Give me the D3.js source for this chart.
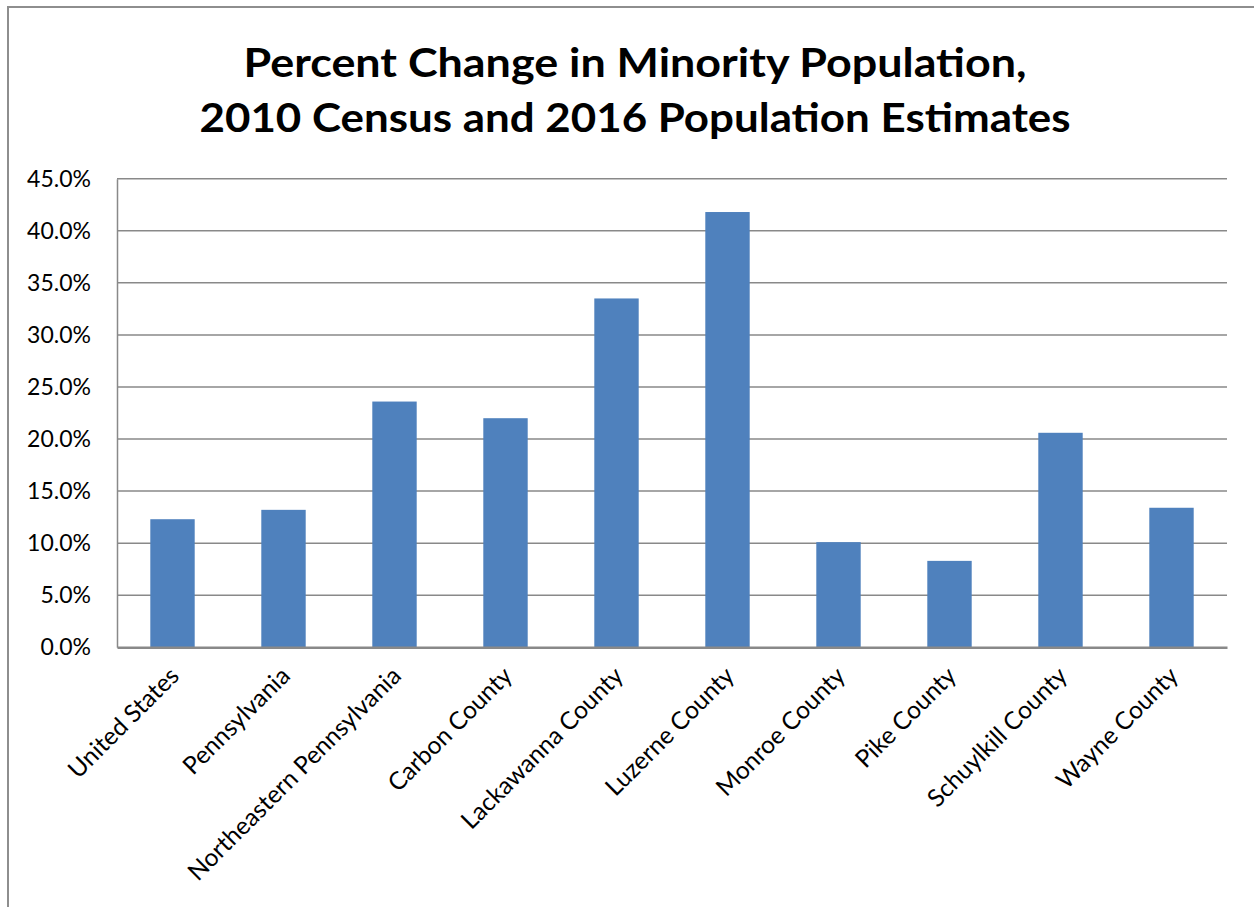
<!DOCTYPE html>
<html>
<head>
<meta charset="utf-8">
<script src="https://cdn.jsdelivr.net/npm/d3@7"></script>
<style>
  html, body { margin: 0; padding: 0; background: #fff; }
  svg { display: block; }
</style>
</head>
<body>
<svg id="chart" width="1254" height="907"></svg>
<script>
const categories = ["United States", "Pennsylvania", "Northeastern Pennsylvania", "Carbon County",
  "Lackawanna County", "Luzerne County", "Monroe County", "Pike County", "Schuylkill County", "Wayne County"];
const values = [12.3, 13.2, 23.6, 22.0, 33.5, 41.8, 10.1, 8.3, 20.6, 13.4];
const yTicks = [0, 5, 10, 15, 20, 25, 30, 35, 40, 45];
const titleLines = ["Percent Change in Minority Population,", "2010 Census and 2016 Population Estimates"];

(function () {
const svg = d3.select("#chart");
const font = "Lato, 'Open Sans', sans-serif";
const grid = "#898989";

// outer frame
svg.append("rect").attr("x", 8).attr("y", 7).attr("width", 1300).attr("height", 1000)
  .attr("fill", "none").attr("stroke", "#8e8e8e").attr("stroke-width", 2);

const pLeft = 117, pRight = 1227, pTop = 178.7, pBottom = 647.3;
const x = d3.scaleBand().domain(categories).range([pLeft, pRight]).paddingInner(0.6).paddingOuter(0.3);
const y = d3.scaleLinear().domain([0, 45]).range([pBottom, pTop]);

// gridlines
svg.append("g").selectAll("line").data(yTicks.filter(d => d > 0)).join("line")
  .attr("x1", pLeft).attr("x2", pRight)
  .attr("y1", d => y(d)).attr("y2", d => y(d))
  .attr("stroke", grid).attr("stroke-width", 1.5);

// bars
svg.append("g").selectAll("rect").data(values).join("rect")
  .attr("x", (d, i) => x(categories[i]))
  .attr("width", x.bandwidth())
  .attr("y", d => y(d))
  .attr("height", d => y(0) - y(d))
  .attr("fill", "#4f81bd");

// y axis
const yAxis = d3.axisLeft(y).tickValues(yTicks).tickSize(0).tickPadding(26)
  .tickFormat(d => d3.format(".1f")(d) + "%");
const gy = svg.append("g").attr("transform", `translate(${pLeft},0)`).call(yAxis);
gy.select(".domain").attr("stroke", grid).attr("stroke-width", 1.5);
gy.selectAll("text").attr("font-family", font).attr("font-size", 23).attr("fill", "#000");

// x axis
const xAxis = d3.axisBottom(x).tickSize(0).tickFormat(d => "");
const gx = svg.append("g").attr("transform", `translate(0,${pBottom})`).call(xAxis);
gx.select(".domain").attr("stroke", grid).attr("stroke-width", 2.5);

svg.append("g").selectAll("text").data(categories).join("text")
  .attr("transform", d => `translate(${x(d) + x.bandwidth() / 2 + 2},${pBottom + 24}) rotate(-45)`)
  .attr("text-anchor", "end")
  .attr("dy", "0.35em")
  .attr("font-family", font).attr("font-size", 24.5).attr("fill", "#000")
  .text(d => d);

// title
const tl = [783, 871];
svg.append("g").selectAll("text").data(titleLines).join("text")
  .attr("x", 635).attr("y", (d, i) => 77 + i * 55)
  .attr("text-anchor", "middle")
  .attr("font-family", font).attr("font-weight", "bold").attr("font-size", 41)
  .attr("textLength", (d, i) => tl[i]).attr("lengthAdjust", "spacingAndGlyphs")
  .attr("fill", "#000")
  .text(d => d);
})();
</script>
</body>
</html>
